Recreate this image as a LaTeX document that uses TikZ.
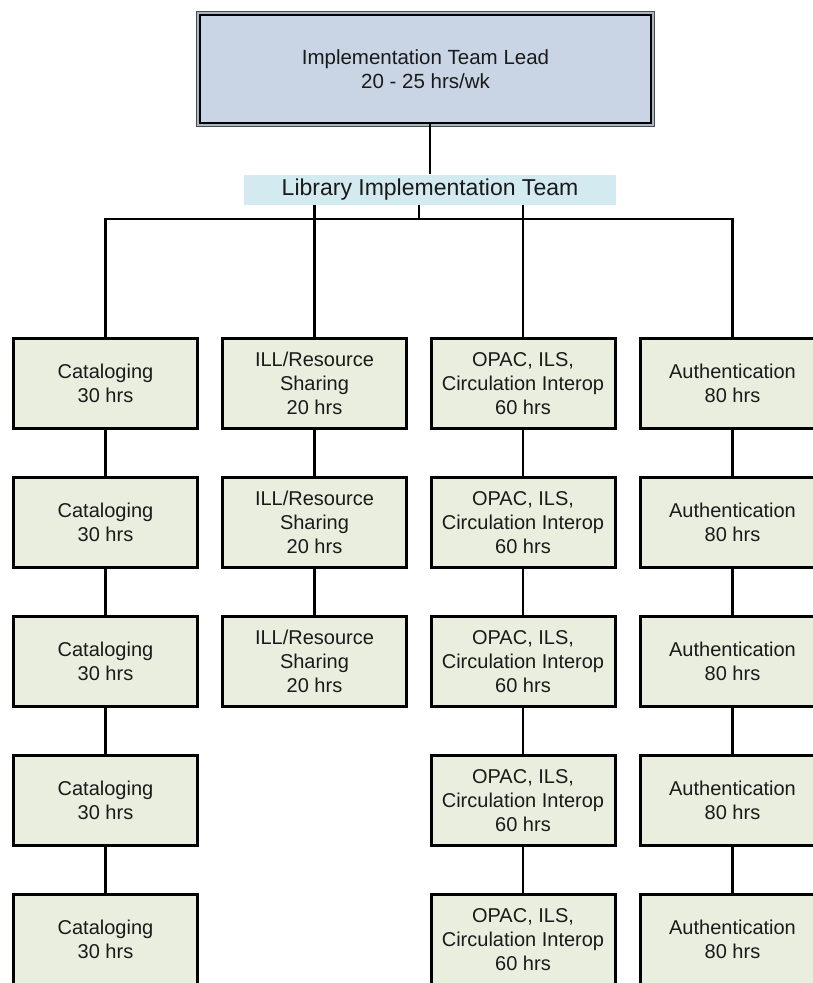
\documentclass[tikz,border=0pt]{standalone}
\usepackage{fontspec}
\setmainfont{Liberation Sans}
\definecolor{leadfill}{HTML}{C9D5E5}
\definecolor{leadgap}{HTML}{A9B6C6}
\definecolor{teamfill}{HTML}{D3EAF0}
\definecolor{boxfill}{HTML}{EAEEDF}
\definecolor{txt}{HTML}{1A1A1A}
\tikzset{
  unitbox/.style={draw=black, fill=boxfill, line width=3pt, minimum width=184pt, minimum height=90pt,
    inner sep=0pt, align=center, text=txt, font=\fontsize{20}{24}\selectfont},
  conn/.style={draw=black, line width=2.6pt},
}
\begin{document}
\begin{tikzpicture}[x=1pt,y=1pt]
\useasboundingbox (0,0) rectangle (813,-983);
\clip (0,0) rectangle (813,-983);
% top lead box (double border)
\fill[leadgap] (196,-11) rectangle (655,-127);
\draw[black!70, line width=1.3pt] (196.6,-11.6) rectangle (654.4,-126.4);
\node[draw=black, line width=2.2pt, fill=leadfill, minimum width=451pt, minimum height=108pt, inner sep=0pt,
  align=center, text=txt, font=\fontsize{20.5}{23.5}\selectfont] (lead) at (425.5,-69)
  {Implementation Team Lead\\20 - 25 hrs/wk};
% team label
\node[fill=teamfill, minimum width=372pt, minimum height=30pt, inner sep=0pt, text=txt,
  font=\fontsize{23}{27}\selectfont] (team) at (430,-189.5) {Library Implementation Team};
\coordinate (bus) at (0,-219);
% column boxes
\foreach \c/\x in {1/105.5, 2/314.5, 3/523, 4/732.5}{
  \foreach \r/\y in {1/383.5, 2/522.5, 3/661.5, 4/800.5, 5/939.5}{
    \coordinate (p\c\r) at (\x,-\y);
  }
}
\foreach \r in {1,...,5}{
  \node[unitbox] (c1r\r) at (p1\r) {Cataloging\\30 hrs};
  \node[unitbox] (c3r\r) at (p3\r) {OPAC, ILS,\\Circulation Interop\\60 hrs};
  \node[unitbox] (c4r\r) at (p4\r) {Authentication\\80 hrs};
}
\foreach \r in {1,2,3}{
  \node[unitbox] (c2r\r) at (p2\r) {ILL/Resource\\Sharing\\20 hrs};
}
% connectors
\draw[conn] (lead.south -| team.north) -- (team.north);
\draw[conn] ([xshift=-11pt]team.south) -- ([xshift=-11pt]team.south |- bus);
\draw[conn, line cap=rect] (c1r1.north) -- (c1r1.north |- bus) -- (c4r1.north |- bus) -- (c4r1.north);
\draw[conn] (team.south -| c2r1.north) -- (c2r1.north);
\draw[conn] (team.south -| c3r1.north) -- (c3r1.north);
\foreach \c in {1,3,4}{
  \foreach \r/\n in {1/2, 2/3, 3/4, 4/5}{
    \draw[conn] (c\c r\r.south) -- (c\c r\n.north);
  }
}
\draw[conn] (c2r1.south) -- (c2r2.north);
\draw[conn] (c2r2.south) -- (c2r3.north);
\end{tikzpicture}
\end{document}
